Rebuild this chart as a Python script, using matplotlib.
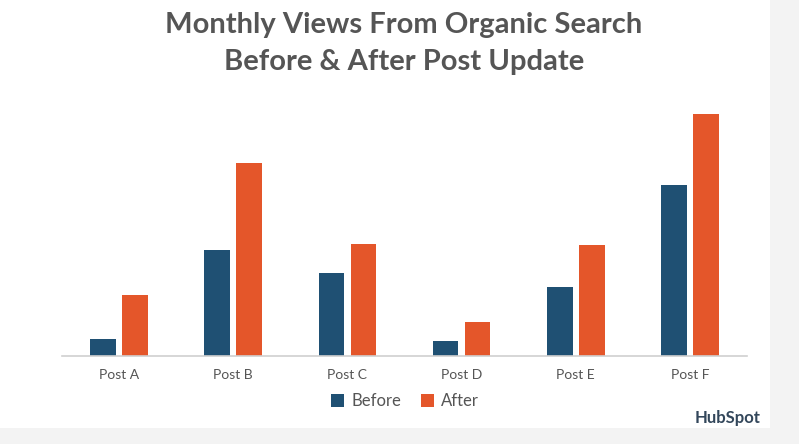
import matplotlib.pyplot as plt
from matplotlib.patches import Rectangle
import numpy as np

posts = ['Post A', 'Post B', 'Post C', 'Post D', 'Post E', 'Post F']
before = [17, 106, 83, 15, 69, 171]
after = [61, 193, 112, 34, 111, 242]

blue = '#1f5073'
orange = '#e4562a'
grey = '#555555'

W, H = 799, 444
fig = plt.figure(figsize=(W / 100, H / 100), dpi=100)
fig.patch.set_facecolor('#f3f3f3')
fig.patches.append(Rectangle((0, 16 / H), 770 / W, 1 - 16 / H, transform=fig.transFigure,
                             facecolor='white', edgecolor='none', zorder=-1))

ax = fig.add_axes([62 / W, (H - 356) / H, 685 / W, 250 / H])
ax.set_zorder(2)
ax.set_facecolor('none')

x = np.arange(len(posts))
w = 0.225
gap = 0.055
ax.bar(x - (w + gap) / 2, before, w, color=blue, label='Before')
ax.bar(x + (w + gap) / 2, after, w, color=orange, label='After')

ax.set_xlim(-0.5, 5.5)
ax.set_ylim(0, 250)
ax.set_xticks(x)
ax.set_xticklabels(posts, fontsize=10, color=grey, family='Lato')
ax.tick_params(axis='x', length=0, pad=9)
ax.set_yticks([])
for s in ['top', 'right', 'left']:
    ax.spines[s].set_visible(False)
ax.spines['bottom'].set_color('#d0d0d0')
ax.spines['bottom'].set_linewidth(1.2)

fig.text(404 / W, 1 - 25 / H, 'Monthly Views From Organic Search', ha='center', va='center',
         fontsize=21, color=grey, family='Lato', weight='bold', zorder=3)
fig.text(404 / W, 1 - 62 / H, 'Before & After Post Update', ha='center', va='center',
         fontsize=21, color=grey, family='Lato', weight='bold', zorder=3)

leg = fig.legend(loc='center', bbox_to_anchor=(405 / W, 1 - 401 / H), ncol=2, frameon=False,
                 handlelength=0.8, handleheight=0.8, handletextpad=0.4, columnspacing=1.2,
                 prop={'family': 'Lato', 'size': 12})
leg.set_zorder(3)
for t in leg.get_texts():
    t.set_color(grey)

fig.text(728 / W, 1 - 418 / H, 'HubSpot', ha='center', va='center', fontsize=12,
         color='#33475b', family='Lato', weight='bold', zorder=3)

fig.savefig('out.png', dpi=100, facecolor=fig.get_facecolor())
